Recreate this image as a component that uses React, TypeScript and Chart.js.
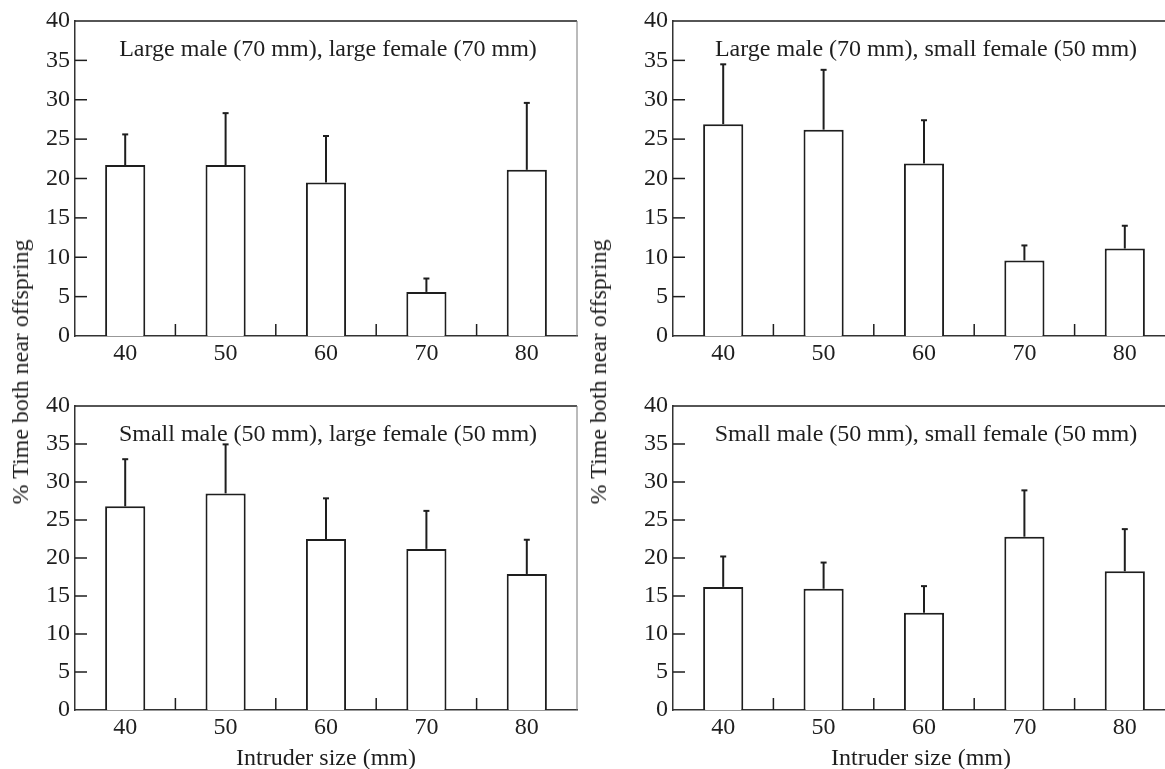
import React, { useEffect, useRef } from 'react';
import { Chart, registerables } from 'chart.js';

Chart.register(...registerables);

// ---- data ----
const categories = ['40', '50', '60', '70', '80'];
const yTickValues = [0, 5, 10, 15, 20, 25, 30, 35, 40];

const titleLL = 'Large male (70 mm), large female (70 mm)';
const meansLL = [21.7, 21.7, 19.5, 5.6, 21.1];
const errLL = [3.9, 6.6, 5.9, 1.7, 8.5];

const titleLS = 'Large male (70 mm), small female (50 mm)';
const meansLS = [26.9, 26.2, 21.9, 9.6, 11.1];
const errLS = [7.6, 7.6, 5.5, 1.9, 2.9];

const titleSL = 'Small male (50 mm), large female (50 mm)';
const meansSL = [26.8, 28.5, 22.5, 21.2, 17.9];
const errSL = [6.2, 6.45, 5.35, 5.0, 4.5];

const titleSS = 'Small male (50 mm), small female (50 mm)';
const meansSS = [16.2, 15.95, 12.8, 22.8, 18.25];
const errSS = [4.0, 3.45, 3.5, 6.1, 5.55];

const yTitle = '% Time both near offspring';
const xTitle = 'Intruder size (mm)';

// ---- style ----
const FONT = '"Liberation Serif", "Times New Roman", serif';
const INK = '#1e1e1e';

type PanelProps = {
  title: string;
  means: number[];
  errs: number[];
  plotLeft: number;
  plotTop: number;
  plotW: number;
  plotH: number;
};

function Panel({ title, means, errs, plotLeft, plotTop, plotW, plotH }: PanelProps) {
  const ref = useRef<HTMLCanvasElement>(null);
  const padL = 50, padT = 20, padR = 10, padB = 40;
  const w = plotW + padL + padR;
  const h = plotH + padT + padB;

  useEffect(() => {
    if (!ref.current) return;
    const decor = {
      id: 'decor',
      afterDatasetsDraw(chart: any) {
        const ctx = chart.ctx as CanvasRenderingContext2D;
        const { left, right, top, bottom } = chart.chartArea;
        const ys = chart.scales.y;
        const xs = chart.scales.x;
        const line = (x1: number, y1: number, x2: number, y2: number) => {
          ctx.beginPath();
          ctx.moveTo(x1, y1);
          ctx.lineTo(x2, y2);
          ctx.stroke();
        };
        ctx.save();
        ctx.lineCap = 'butt';
        // frame: top + right
        ctx.strokeStyle = INK;
        ctx.lineWidth = 1.5;
        line(left, top, right, top);
        ctx.strokeStyle = '#777';
        ctx.lineWidth = 1;
        line(right, top, right, bottom);
        // inward y ticks
        ctx.strokeStyle = INK;
        ctx.lineWidth = 1.5;
        yTickValues.forEach((v) => {
          if (v === 0 || v === 40) return;
          const py = ys.getPixelForValue(v);
          line(left, py, left + 12, py);
        });
        // x separators between categories
        for (let i = 0; i < categories.length - 1; i++) {
          const px = (xs.getPixelForValue(i) + xs.getPixelForValue(i + 1)) / 2;
          line(px, bottom, px, bottom - 12);
        }
        // error bars (upper only)
        ctx.lineWidth = 2;
        const meta = chart.getDatasetMeta(0);
        meta.data.forEach((el: any, i: number) => {
          const y0 = ys.getPixelForValue(means[i]);
          const y1 = ys.getPixelForValue(means[i] + errs[i]);
          line(el.x, y0, el.x, y1);
          line(el.x - 3, y1, el.x + 3, y1);
        });
        // panel title
        ctx.fillStyle = INK;
        ctx.font = `24px ${FONT}`;
        ctx.textAlign = 'center';
        ctx.textBaseline = 'middle';
        ctx.fillText(title, (left + right) / 2 + 2, top + 29);
        ctx.restore();
      },
    };

    const chart = new Chart(ref.current, {
      type: 'bar',
      data: {
        labels: categories,
        datasets: [
          {
            data: means,
            backgroundColor: '#ffffff',
            borderColor: INK,
            borderWidth: 2,
            borderSkipped: 'start',
            barPercentage: 0.4,
            categoryPercentage: 1,
          },
        ],
      },
      options: {
        responsive: false,
        animation: false,
        devicePixelRatio: 1,
        layout: { padding: { left: 0, top: padT, right: padR, bottom: 0 } },
        plugins: { legend: { display: false }, tooltip: { enabled: false } },
        scales: {
          x: {
            type: 'category',
            offset: true,
            grid: { display: false, drawTicks: false },
            border: { display: true, color: '#333', width: 1.5 },
            ticks: { color: INK, font: { family: FONT, size: 24 }, padding: 3 },
            afterFit: (s: any) => {
              s.height = padB;
            },
          },
          y: {
            min: 0,
            max: 40,
            grid: { display: false, drawTicks: false },
            border: { display: true, color: '#333', width: 1.5 },
            ticks: {
              stepSize: 5,
              color: INK,
              font: { family: FONT, size: 24 },
              padding: 5,
            },
            afterFit: (s: any) => {
              s.width = padL;
            },
          },
        },
      },
      plugins: [decor],
    } as any);
    return () => chart.destroy();
  }, [title, means, errs, plotW, plotH]);

  return (
    <canvas
      ref={ref}
      width={w}
      height={h}
      style={{ position: 'absolute', left: plotLeft - padL, top: plotTop - padT, width: w, height: h }}
    />
  );
}

const textStyle: React.CSSProperties = {
  position: 'absolute',
  fontFamily: FONT,
  fontSize: 24,
  color: INK,
  whiteSpace: 'nowrap',
  lineHeight: 1,
};

export default function App() {
  return (
    <div
      style={{
        position: 'fixed',
        left: 0,
        top: 0,
        width: 1165,
        height: 769,
        overflow: 'hidden',
        background: '#ffffff',
      }}
    >
      <Panel title={titleLL} means={meansLL} errs={errLL} plotLeft={75} plotTop={21} plotW={502} plotH={315} />
      <Panel title={titleLS} means={meansLS} errs={errLS} plotLeft={673} plotTop={21} plotW={502} plotH={315} />
      <Panel title={titleSL} means={meansSL} errs={errSL} plotLeft={75} plotTop={406} plotW={502} plotH={304} />
      <Panel title={titleSS} means={meansSS} errs={errSS} plotLeft={673} plotTop={406} plotW={502} plotH={304} />

      <div style={{ ...textStyle, left: 20, top: 372, transform: 'translate(-50%, -50%) rotate(-90deg)' }}>{yTitle}</div>
      <div style={{ ...textStyle, left: 598, top: 372, transform: 'translate(-50%, -50%) rotate(-90deg)' }}>{yTitle}</div>
      <div style={{ ...textStyle, left: 326, top: 757, transform: 'translate(-50%, -50%)' }}>{xTitle}</div>
      <div style={{ ...textStyle, left: 921, top: 757, transform: 'translate(-50%, -50%)' }}>{xTitle}</div>
    </div>
  );
}
